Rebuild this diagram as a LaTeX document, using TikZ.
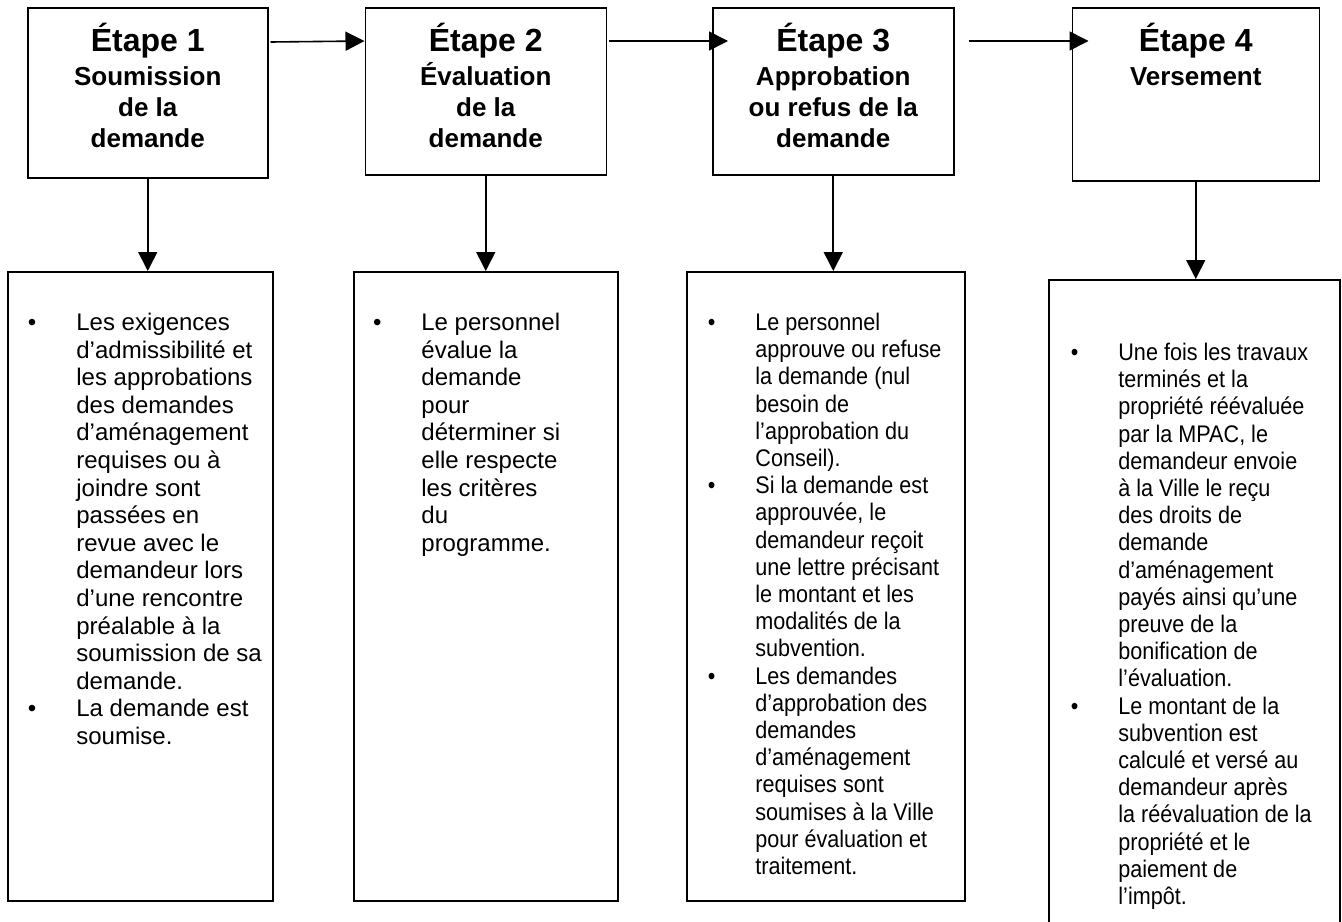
\documentclass[tikz,border=0pt]{standalone}
\usepackage{fontspec}
\setmainfont{Liberation Sans}
\newfontfamily\narrowsans[FakeStretch=0.9]{Liberation Sans}
\usepackage{tikz}
\usetikzlibrary{positioning,arrows.meta,calc}
\newcommand{\itm}{\leavevmode\llap{•\hspace{20pt}}}
\newcommand{\topstrut}{\rule{0pt}{10pt}}

\begin{document}
\begin{tikzpicture}[x=0.5pt,y=-0.5pt,
  tbox/.style={draw,line width=0.75pt,anchor=north west,minimum width=120.5pt,minimum height=83.5pt,inner sep=0pt},
  lbox/.style={draw,line width=0.75pt,anchor=north west,minimum height=314.5pt,inner sep=0pt},
  ttl/.style={anchor=north,inner sep=0pt,font=\bfseries\fontsize{16}{18}\selectfont},
  sub/.style={anchor=north,inner sep=0pt,align=center,font=\bfseries\fontsize{13}{15.5}\selectfont},
  lst/.style={anchor=north west,inner sep=0pt,align=left,font=\fontsize{12}{13.8}\selectfont},
  nar/.style={lst,font=\narrowsans\fontsize{12}{13.6}\selectfont},
  arr/.style={line width=0.8pt,-{Triangle[length=9.5pt,width=9.5pt]}}
]
\useasboundingbox[fill=white] (0,0) rectangle (1342,921);

% top row: the four steps
\node[tbox,minimum width=120pt,minimum height=85pt] (t1) at (27,7) {};
\node[tbox,right=48pt of t1.north east,anchor=north west] (t2) {};
\node[tbox,right=52.5pt of t2.north east,anchor=north west] (t3) {};
\node[tbox,right=58.5pt of t3.north east,anchor=north west,minimum width=123.5pt,minimum height=86.5pt] (t4) {};

\node[ttl] at ([yshift=-6pt]t1.north) {\rule{0pt}{16pt}Étape 1};
\node[ttl] at ([yshift=-6pt]t2.north) {\rule{0pt}{16pt}Étape 2};
\node[ttl] at ([yshift=-6pt]t3.north) {\rule{0pt}{16pt}Étape 3};
\node[ttl] at ([yshift=-6pt]t4.north) {\rule{0pt}{16pt}Étape 4};
\node[sub] at ([yshift=-26pt]t1.north) {\rule{0pt}{13pt}Soumission\\de la\\demande};
\node[sub] at ([yshift=-26pt]t2.north) {\rule{0pt}{13pt}Évaluation\\de la\\demande};
\node[sub] at ([yshift=-26pt]t3.north) {\rule{0pt}{13pt}Approbation\\ou refus de la\\demande};
\node[sub] at ([yshift=-26pt]t4.north) {\rule{0pt}{13pt}Versement};

% bottom row: what happens at each step
\node[lbox,minimum width=132.5pt] (b1) at (7,271) {};
\node[lbox,minimum width=132pt] (b2) at (353,271) {};
\node[lbox,minimum width=139pt] (b3) at (686,271) {};
\node[lbox,minimum width=145.5pt,minimum height=340pt,line width=1.2pt] (b4) at (1048,279) {};

\node[lst] at ([shift={(34.5pt,-19.5pt)}]b1.north west) {\topstrut\itm Les exigences\\d’admissibilité et\\les approbations\\des demandes\\d’aménagement\\requises ou à\\joindre sont\\passées en\\revue avec le\\demandeur lors\\d’une rencontre\\préalable à la\\soumission de sa\\demande.\\\itm La demande est\\soumise.};
\node[lst] at ([shift={(34pt,-19.5pt)}]b2.north west) {\topstrut\itm Le personnel\\évalue la\\demande\\pour\\déterminer si\\elle respecte\\les critères\\du\\programme.};
\node[nar] at ([shift={(34.5pt,-19.5pt)}]b3.north west) {\topstrut\itm Le personnel\\approuve ou refuse\\la demande (nul\\besoin de\\l’approbation du\\Conseil).\\\itm Si la demande est\\approuvée, le\\demandeur reçoit\\une lettre précisant\\le montant et les\\modalités de la\\subvention.\\\itm Les demandes\\d’approbation des\\demandes\\d’aménagement\\requises sont\\soumises à la Ville\\pour évaluation et\\traitement.};
\node[nar] at ([shift={(35pt,-30.5pt)}]b4.north west) {\topstrut\itm Une fois les travaux\\terminés et la\\propriété réévaluée\\par la MPAC, le\\demandeur envoie\\à la Ville le reçu\\des droits de\\demande\\d’aménagement\\payés ainsi qu’une\\preuve de la\\bonification de\\l’évaluation.\\\itm Le montant de la\\subvention est\\calculé et versé au\\demandeur après\\la réévaluation de la\\propriété et le\\paiement de\\l’impôt.};

\draw[arr] ([shift={(1pt,-17.5pt)}]t1.north east) -- ([yshift=-17pt]t2.north west);
\draw[arr] ([shift={(1pt,-17pt)}]t2.north east) -- ([shift={(8pt,-17pt)}]t3.north west);
\draw[arr] ([shift={(7pt,-17pt)}]t3.north east) -- ([shift={(8.5pt,-17pt)}]t4.north west);
\draw[arr] (t1.south) -- (t1.south |- b1.north);
\draw[arr] (t2.south) -- (t2.south |- b2.north);
\draw[arr] (t3.south) -- (t3.south |- b3.north);
\draw[arr] (t4.south) -- (t4.south |- b4.north);
\end{tikzpicture}
\end{document}
